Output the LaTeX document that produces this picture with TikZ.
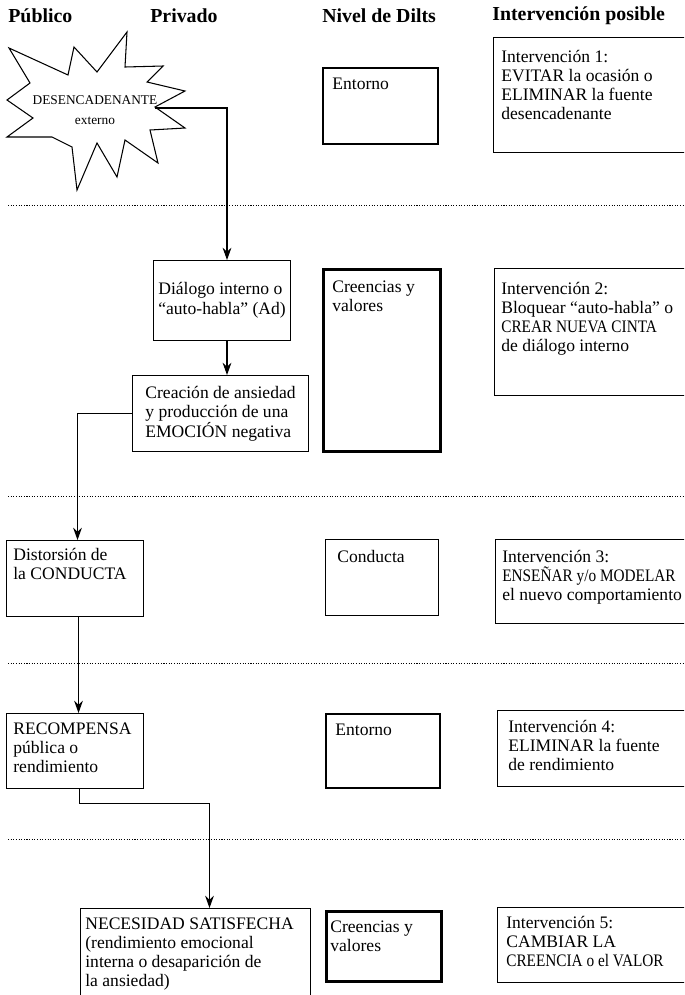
\documentclass[tikz,border=0pt]{standalone}
\usepackage{fontspec}
\setmainfont{Liberation Serif}
\newfontfamily\estrecho{Liberation Serif}[FakeStretch=0.87]
\usetikzlibrary{positioning,arrows.meta}

\tikzset{
  marco/.style={draw, line width=0.6pt, anchor=north west, inner sep=0pt, align=left,
    font=\fontsize{10}{11.2}\selectfont},
  medio/.style={marco, line width=1.2pt},
  grueso/.style={marco, line width=1.8pt},
  texto/.style={anchor=north west, align=left, inner sep=0pt, font=\fontsize{10}{10.8}\selectfont},
  titulo/.style={anchor=west, inner sep=0pt, font=\fontsize{11.3}{13}\selectfont\bfseries},
  flecha/.style={-{Stealth[length=7pt,width=5pt]}, line width=0.6pt},
  linea/.style={line width=0.6pt},
  puntos/.style={line width=0.5pt, dash pattern=on 0.6pt off 0.9pt},
}

\begin{document}
\begin{tikzpicture}[x=0.02cm, y=-0.02cm]
\useasboundingbox (0,0) rectangle (684,995);
\clip (0,0) rectangle (684,995);

% column titles
\node[titulo] (tpub) at (8,16) {Público};
\node[titulo] (tpriv) at (150,16) {Privado};
\node[titulo] (tniv) at (322,16) {Nivel de Dilts};
\node[titulo] (tint) at (492,16) {Intervención posible};

% separators
\foreach \y in {205,496,663,839}
  \draw[puntos] (8,\y) -- (684,\y);

% trigger (starburst)
\draw[linea] (9,48) -- (68,75) -- (74,47) -- (97,72) -- (127,32) -- (125,67)
  -- (163,66) -- (147,82) -- (185,91) -- (155,107) -- (185,128) -- (150,130)
  -- (158,163) -- (125,140) -- (117,177) -- (97,143) -- (77,190) -- (72,147)
  -- (52,137) -- (7,137) -- (33,118) -- (7,100) -- (30,83) -- cycle;
\node[font=\fontsize{7.6}{11.3}\selectfont, align=center, inner sep=0pt] (desenc) at (95,110) {DESENCADENANTE\\externo};
\coordinate (burst) at (155,108);

% row 1
\node[medio, minimum width=2.30cm, minimum height=1.52cm] (ent1) at (322,67) {};
\node[texto] (ent1t) at (332,78) {Entorno};
\node[marco, minimum width=4.14cm, minimum height=2.30cm] (int1) at (493,37) {};
\node[texto] (int1t) at (501,50) {Intervención 1:\\EVITAR la ocasión o\\ELIMINAR la fuente\\desencadenante};

% row 2
\node[marco, minimum width=2.74cm, minimum height=1.60cm] (dlg) at (153,260) {Diálogo interno o\\“auto-habla” (Ad)};
\node[marco, minimum width=3.52cm, minimum height=1.52cm] (cre) at (132,375) {Creación de ansiedad\\y producción de una\\EMOCIÓN negativa};
\node[grueso, minimum width=2.34cm, minimum height=3.64cm] (crv1) at (322,268) {};
\node[texto] (crv1t) at (332,281) {Creencias y\\valores};
\node[marco, minimum width=4.12cm, minimum height=2.54cm] (int2) at (494,268) {};
\node[texto] (int2t) at (501,282) {Intervención 2:\\Bloquear “auto-habla” o\\{\estrecho CREAR NUEVA CINTA}\\de diálogo interno};

% row 3
\node[marco, minimum width=2.74cm, minimum height=1.52cm] (dis) at (6,540) {};
\node[texto] (dist) at (13,548) {Distorsión de\\la CONDUCTA};
\node[marco, minimum width=2.26cm, minimum height=1.52cm] (con) at (325,539) {};
\node[texto] (cont) at (337,550) {Conducta};
\node[marco, minimum width=4.10cm, minimum height=1.68cm] (int3) at (495,539) {};
\node[texto] (int3t) at (502,550) {Intervención 3:\\{\estrecho ENSEÑAR y/o MODELAR}\\el nuevo comportamiento};

% row 4
\node[marco, minimum width=2.74cm, minimum height=1.50cm] (rec) at (6,713) {};
\node[texto] (rect) at (13,723) {RECOMPENSA\\pública o\\rendimiento};
\node[medio, minimum width=2.28cm, minimum height=1.48cm] (ent4) at (325,713) {};
\node[texto] (ent4t) at (335,724) {Entorno};
\node[marco, minimum width=4.06cm, minimum height=1.52cm] (int4) at (497,710) {};
\node[texto] (int4t) at (508,720) {Intervención 4:\\ELIMINAR la fuente\\de rendimiento};

% row 5
\node[marco, minimum width=4.60cm, minimum height=2.40cm] (nec) at (80,908) {};
\node[texto] (nect) at (85,918) {NECESIDAD SATISFECHA\\(rendimiento emocional\\interna o desaparición de\\la ansiedad)};
\node[grueso, minimum width=2.30cm, minimum height=1.40cm] (crv5) at (325,910) {};
\node[texto] (crv5t) at (330,921) {Creencias y\\valores};
\node[marco, minimum width=4.06cm, minimum height=1.50cm] (int5) at (497,907) {};
\node[texto] (int5t) at (506,916) {Intervención 5:\\CAMBIAR LA\\{\estrecho CREENCIA o el VALOR}};

% flow
\draw[flecha] (burst) -| ([xshift=0.1cm]dlg.north);
\draw[flecha] ([xshift=0.1cm]dlg.south) -- ([xshift=0.1cm]dlg.south |- cre.north);
\draw[flecha] (cre.west) -| ([xshift=0.05cm]dis.north);
\draw[flecha] ([xshift=0.07cm]dis.south) -- ([xshift=0.07cm]dis.south |- rec.north);
\draw[flecha] ([xshift=0.09cm]rec.south) -- ++(0,14) -| ([xshift=0.28cm]nec.north);
\end{tikzpicture}
\end{document}
